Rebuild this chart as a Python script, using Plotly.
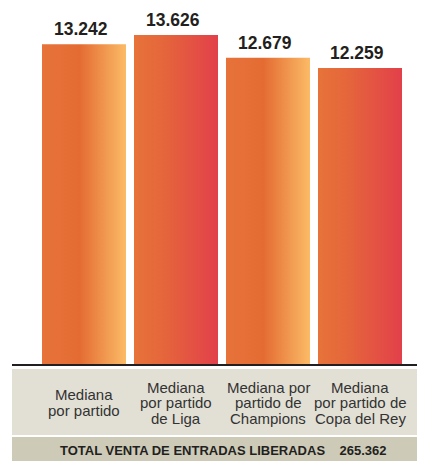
"""Mediana de entradas liberadas por partido - barras con degradado"""

import plotly.graph_objects as go

# datos
CATEGORIAS = [
    "Mediana\npor partido",
    "Mediana\npor partido\nde Liga",
    "Mediana por\npartido de\nChampions",
    "Mediana\npor partido de\nCopa del Rey",
]
VALORES = [13242, 13626, 12679, 12259]
ETIQUETAS = ["13.242", "13.626", "12.679", "12.259"]
TOTAL_TEXTO = "TOTAL VENTA DE ENTRADAS LIBERADAS"
TOTAL_VALOR = "265.362"

FUENTE = "Liberation Sans, Arial, Helvetica, sans-serif"
NARANJA_AMARILLO = [[0, "#E7733A"], [0.45, "#E46C33"], [1, "#FBBB66"]]
NARANJA_ROJO = [[0, "#E7733A"], [0.35, "#E5663B"], [1, "#E2404A"]]
ESCALAS = [NARANJA_AMARILLO, NARANJA_ROJO, NARANJA_AMARILLO, NARANJA_ROJO]
MEDIO_ANCHO = 0.4565

# la página tiene 8px de margen en el body, el lienzo se ajusta a eso
ANCHO, ALTO = 417, 453
ALTO_PLOT = 356

fig = go.Figure()

# barras con degradado horizontal
for i, (valor, escala) in enumerate(zip(VALORES, ESCALAS)):
    x0, x1 = i - MEDIO_ANCHO, i + MEDIO_ANCHO
    fig.add_trace(
        go.Scatter(
            x=[x0, x1, x1, x0, x0],
            y=[0, 0, valor, valor, 0],
            mode="lines",
            line={"width": 0},
            fill="toself",
            fillgradient={"type": "horizontal", "colorscale": escala, "start": x0, "stop": x1},
            hoverinfo="skip",
            showlegend=False,
        )
    )

# etiquetas de valor
for i, (valor, etiqueta) in enumerate(zip(VALORES, ETIQUETAS)):
    fig.add_annotation(
        x=i - 0.03, y=valor, xref="x", yref="y", yanchor="bottom", yshift=4,
        text=f"<b>{etiqueta}</b>", showarrow=False, borderpad=0,
        font={"family": FUENTE, "size": 17.5, "color": "#231F20"},
    )

# bandas inferiores
fig.add_shape(
    type="rect", xref="paper", yref="paper", x0=0, x1=1, yanchor=0, ysizemode="pixel",
    y0=-5, y1=-71, fillcolor="#E2E0D5", line={"width": 0}, layer="below",
)
fig.add_shape(
    type="rect", xref="paper", yref="paper", x0=0, x1=1, yanchor=0, ysizemode="pixel",
    y0=-73, y1=-98, fillcolor="#CDCBB8", line={"width": 0}, layer="below",
)

# etiquetas de categoría, una anotación por línea
INTERLINEA = 15.5
for i, cat in enumerate(CATEGORIAS):
    lineas = cat.split("\n")
    n = len(lineas)
    for j, linea in enumerate(lineas):
        centro = 38.5 + (j - (n - 1) / 2) * INTERLINEA
        fig.add_annotation(
            x=i, xref="x", y=0, yref="paper", yanchor="middle", yshift=-centro,
            text=linea, showarrow=False, borderpad=0,
            font={"family": FUENTE, "size": 15, "color": "#333333"},
        )

fig.add_annotation(
    x=0.511, xref="paper", y=0, yref="paper", yanchor="middle", yshift=-86,
    text=f"<b>{TOTAL_TEXTO}&nbsp;&nbsp;&nbsp;&nbsp;{TOTAL_VALOR}</b>", showarrow=False,
    font={"family": FUENTE, "size": 13, "color": "#231F20"},
)

fig.update_layout(
    width=ANCHO,
    height=ALTO,
    margin={"l": 4, "r": 0, "t": 0, "b": ALTO - ALTO_PLOT},
    paper_bgcolor="white",
    plot_bgcolor="white",
    showlegend=False,
)
fig.update_xaxes(
    range=[-0.7826, 3.7065],
    showgrid=False,
    zeroline=False,
    showticklabels=False,
    ticks="",
    showline=True,
    linecolor="#231F20",
    linewidth=1.5,
)
fig.update_yaxes(
    range=[0, 13626 * ALTO_PLOT / 329],
    showgrid=False,
    zeroline=False,
    showticklabels=False,
    ticks="",
    showline=False,
)

fig.write_html("out.html")
